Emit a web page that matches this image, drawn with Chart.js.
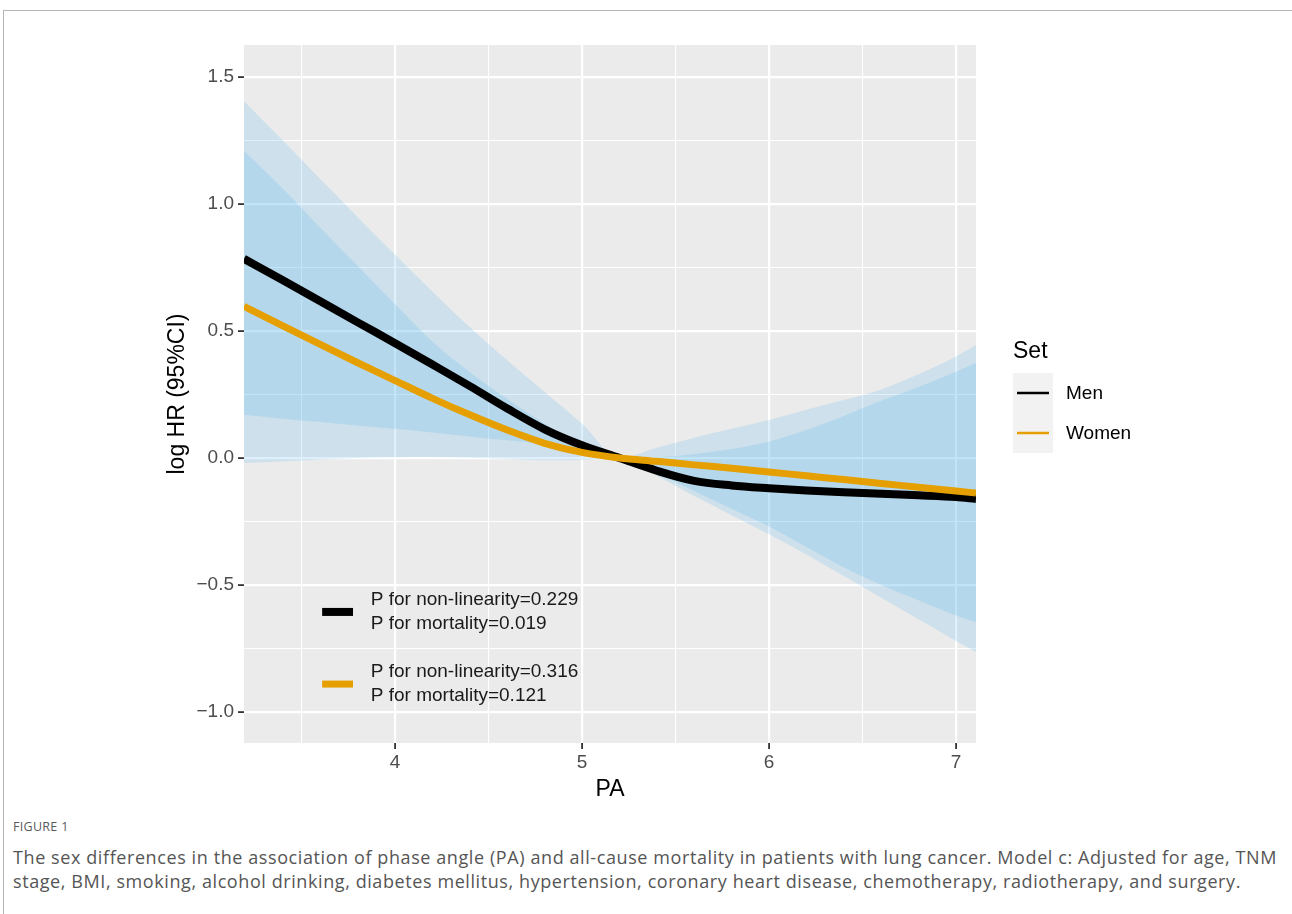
<!DOCTYPE html>
<html>
<head>
<meta charset="utf-8">
<script src="https://cdn.jsdelivr.net/npm/chart.js@4.4.1/dist/chart.umd.min.js"></script>
<style>
  html, body { margin: 0; padding: 0; background: #ffffff; }
  body { width: 1292px; height: 914px; position: relative; overflow: hidden; }
  #frame { position: absolute; left: 3px; top: 10px; width: 1300px; height: 920px;
           border-top: 1px solid #b5b5b5; border-left: 1px solid #b5b5b5; }
  #wrap { position: absolute; left: 0; top: 0; width: 1292px; height: 800px; }
  #fig { position: absolute; left: 13px; top: 818px; font-family: "Open Sans", "Noto Sans", sans-serif;
         font-size: 12.5px; color: #5a5a5a; letter-spacing: 0.3px; }
  .cap { position: absolute; left: 13px; font-family: "Open Sans", "Noto Sans", sans-serif;
         font-size: 18px; color: #555555; white-space: nowrap; line-height: 22px; }
</style>
</head>
<body>
<div id="frame"></div>
<div id="wrap"><canvas id="c" width="1292" height="800"></canvas></div>
<div id="fig">FIGURE 1</div>
<div class="cap" id="cap1" style="top:846px">The sex differences in the association of phase angle (PA) and all-cause mortality in patients with lung cancer. Model c: Adjusted for age, TNM</div>
<div class="cap" id="cap2" style="top:870px">stage, BMI, smoking, alcohol drinking, diabetes mellitus, hypertension, coronary heart disease, chemotherapy, radiotherapy, and surgery.</div>
<script>
// ---- data ----
const pa = [3.192, 3.4, 3.6, 3.8, 4.0, 4.2, 4.4, 4.6, 4.8, 5.0, 5.2, 5.4, 5.6, 5.8, 6.0, 6.2, 6.4, 6.6, 6.8, 7.0, 7.107];
const menFit   = [0.784, 0.70, 0.617, 0.534, 0.452, 0.368, 0.283, 0.195, 0.113, 0.05, 0.0, -0.05, -0.09, -0.108, -0.119, -0.128, -0.135, -0.141, -0.147, -0.154, -0.161];
const menUpper = [1.405, 1.25, 1.098, 0.948, 0.80, 0.655, 0.515, 0.385, 0.26, 0.135, 0.0, 0.04, 0.08, 0.115, 0.15, 0.19, 0.228, 0.27, 0.33, 0.40, 0.445];
const menLower = [0.17, 0.155, 0.142, 0.128, 0.115, 0.10, 0.085, 0.07, 0.055, 0.033, 0.0, -0.07, -0.15, -0.225, -0.30, -0.38, -0.465, -0.55, -0.635, -0.72, -0.764];
const womenFit   = [0.597, 0.52, 0.447, 0.375, 0.305, 0.235, 0.17, 0.11, 0.058, 0.022, 0.0, -0.013, -0.027, -0.04, -0.055, -0.07, -0.085, -0.10, -0.115, -0.13, -0.138];
const womenUpper = [1.21, 1.06, 0.907, 0.756, 0.605, 0.458, 0.338, 0.232, 0.135, 0.052, 0.0, 0.003, 0.015, 0.035, 0.065, 0.11, 0.165, 0.225, 0.28, 0.34, 0.374];
const womenLower = [-0.02, -0.013, -0.006, 0.0, 0.003, 0.004, 0.001, -0.004, -0.009, -0.008, 0.0, -0.06, -0.13, -0.20, -0.27, -0.35, -0.43, -0.50, -0.56, -0.62, -0.646];
const xTicks = [4, 5, 6, 7];
const xMinor = [3.5, 4.5, 5.5, 6.5];
const yTicks = [1.5, 1.0, 0.5, 0.0, -0.5, -1.0];
const yMinor = [1.25, 0.75, 0.25, -0.25, -0.75];
const seriesNames = ["Men", "Women"];
const seriesColors = ["#000000", "#E69F00"];
const pLabels = [["P for non-linearity=0.229", "P for mortality=0.019"], ["P for non-linearity=0.316", "P for mortality=0.121"]];

const pts = (ys) => pa.map((x, i) => ({ x: x, y: ys[i] }));
const ribbon = "rgba(86,180,233,0.2)";
const FONT = "'Liberation Sans', Arial, Helvetica, sans-serif";

const ggPlugin = {
  id: 'gg',
  beforeDraw(chart) {
    const { ctx, chartArea: a } = chart;
    ctx.save();
    ctx.fillStyle = '#EBEBEB';
    ctx.fillRect(a.left, a.top, a.right - a.left, a.bottom - a.top);
    ctx.restore();
  },
  beforeDatasetsDraw(chart) {
    const { ctx, chartArea: a, scales } = chart;
    ctx.save();
    ctx.strokeStyle = '#ffffff';
    ctx.lineWidth = 1.1;
    xMinor.forEach(v => {
      const px = scales.x.getPixelForValue(v);
      ctx.beginPath(); ctx.moveTo(px, a.top); ctx.lineTo(px, a.bottom); ctx.stroke();
    });
    yMinor.forEach(v => {
      const py = scales.y.getPixelForValue(v);
      ctx.beginPath(); ctx.moveTo(a.left, py); ctx.lineTo(a.right, py); ctx.stroke();
    });
    ctx.restore();
  },
  afterDraw(chart) {
    const { ctx, scales, chartArea: a } = chart;
    const xs = scales.x, ys = scales.y;
    ctx.save();
    // axis titles
    ctx.font = "23px " + FONT;
    ctx.fillStyle = '#000';
    ctx.textAlign = 'center';
    ctx.textBaseline = 'middle';
    ctx.fillText('PA', (a.left + a.right) / 2, 790);
    ctx.save();
    ctx.translate(178, (a.top + a.bottom) / 2);
    ctx.rotate(-Math.PI / 2);
    ctx.fillText('log HR (95%CI)', 0, 0);
    ctx.restore();
    ctx.textAlign = 'left';
    // in-panel annotation
    const segY = [-0.606, -0.89];
    const segW = [8, 7];
    ctx.font = "19px " + FONT;
    ctx.textBaseline = 'middle';
    segY.forEach((yv, i) => {
      const py = ys.getPixelForValue(yv);
      ctx.fillStyle = seriesColors[i];
      const x0 = xs.getPixelForValue(3.61), x1 = xs.getPixelForValue(3.775);
      ctx.fillRect(x0, py - segW[i] / 2, x1 - x0, segW[i]);
      ctx.fillStyle = '#1a1a1a';
      const tx = xs.getPixelForValue(3.87);
      ctx.fillText(pLabels[i][0], tx, py - 12);
      ctx.fillText(pLabels[i][1], tx, py + 12);
    });
    // right legend
    const lx = 1013, ly = 373;
    ctx.fillStyle = '#000';
    ctx.font = "23px " + FONT;
    ctx.textBaseline = 'alphabetic';
    ctx.fillText("Set", lx, 358);
    ctx.font = "19px " + FONT;
    ctx.textBaseline = 'middle';
    seriesNames.forEach((n, i) => {
      const top = ly + i * 40;
      ctx.fillStyle = '#F2F2F2';
      ctx.fillRect(lx, top, 40, 40);
      ctx.strokeStyle = seriesColors[i];
      ctx.lineWidth = 2.5;
      ctx.beginPath(); ctx.moveTo(lx + 4, top + 20); ctx.lineTo(lx + 36, top + 20); ctx.stroke();
      ctx.fillStyle = '#000';
      ctx.fillText(n, lx + 53, top + 21);
    });
    ctx.restore();
  }
};

const datasets = [
  { label: 'Women', data: pts(womenFit), borderColor: seriesColors[1], borderWidth: 7, pointRadius: 0, fill: false, cubicInterpolationMode: 'monotone' },
  { label: 'Men', data: pts(menFit), borderColor: seriesColors[0], borderWidth: 8, pointRadius: 0, fill: false, cubicInterpolationMode: 'monotone' },
  { label: 'MenU', data: pts(menUpper), borderWidth: 0, pointRadius: 0, backgroundColor: ribbon, fill: '+1', cubicInterpolationMode: 'monotone' },
  { label: 'MenL', data: pts(menLower), borderWidth: 0, pointRadius: 0, fill: false, cubicInterpolationMode: 'monotone' },
  { label: 'WomenU', data: pts(womenUpper), borderWidth: 0, pointRadius: 0, backgroundColor: ribbon, fill: '+1', cubicInterpolationMode: 'monotone' },
  { label: 'WomenL', data: pts(womenLower), borderWidth: 0, pointRadius: 0, fill: false, cubicInterpolationMode: 'monotone' }
];

new Chart(document.getElementById('c'), {
  type: 'line',
  data: { datasets: datasets },
  options: {
    responsive: false,
    animation: false,
    events: [],
    layout: { padding: { left: 0, top: 45, right: 316, bottom: 0 } },
    plugins: { legend: { display: false }, tooltip: { enabled: false } },
    scales: {
      x: {
        type: 'linear', min: 3.192, max: 7.107,
        afterBuildTicks: (s) => { s.ticks = xTicks.map(v => ({ value: v })); },
        afterFit: (s) => { s.height = 57; },
        ticks: { font: { family: FONT, size: 19 }, color: '#4D4D4D', padding: 2, callback: (v) => String(v) },
        grid: { color: '#ffffff', lineWidth: 2.2, tickColor: '#333333', tickLength: 6, tickWidth: 1.8 },
        border: { display: false },
        title: { display: false }
      },
      y: {
        type: 'linear', min: -1.122, max: 1.626,
        afterBuildTicks: (s) => { s.ticks = yTicks.map(v => ({ value: v })); },
        afterFit: (s) => { s.width = 244; },
        ticks: { font: { family: FONT, size: 19 }, color: '#4D4D4D', padding: 4,
                 callback: (v) => (v < 0 ? '\u2212' : '') + Math.abs(v).toFixed(1) },
        grid: { color: '#ffffff', lineWidth: 2.2, tickColor: '#333333', tickLength: 6, tickWidth: 1.8 },
        border: { display: false },
        title: { display: false }
      }
    }
  },
  plugins: [ggPlugin]
});

// fit caption lines to the reference widths
function fitLine(id, target) {
  const el = document.getElementById(id);
  const n = el.textContent.length;
  const w = el.getBoundingClientRect().width;
  el.style.letterSpacing = ((target - w) / n) + 'px';
}
fitLine('cap1', 1264);
fitLine('cap2', 1228);
</script>
</body>
</html>
